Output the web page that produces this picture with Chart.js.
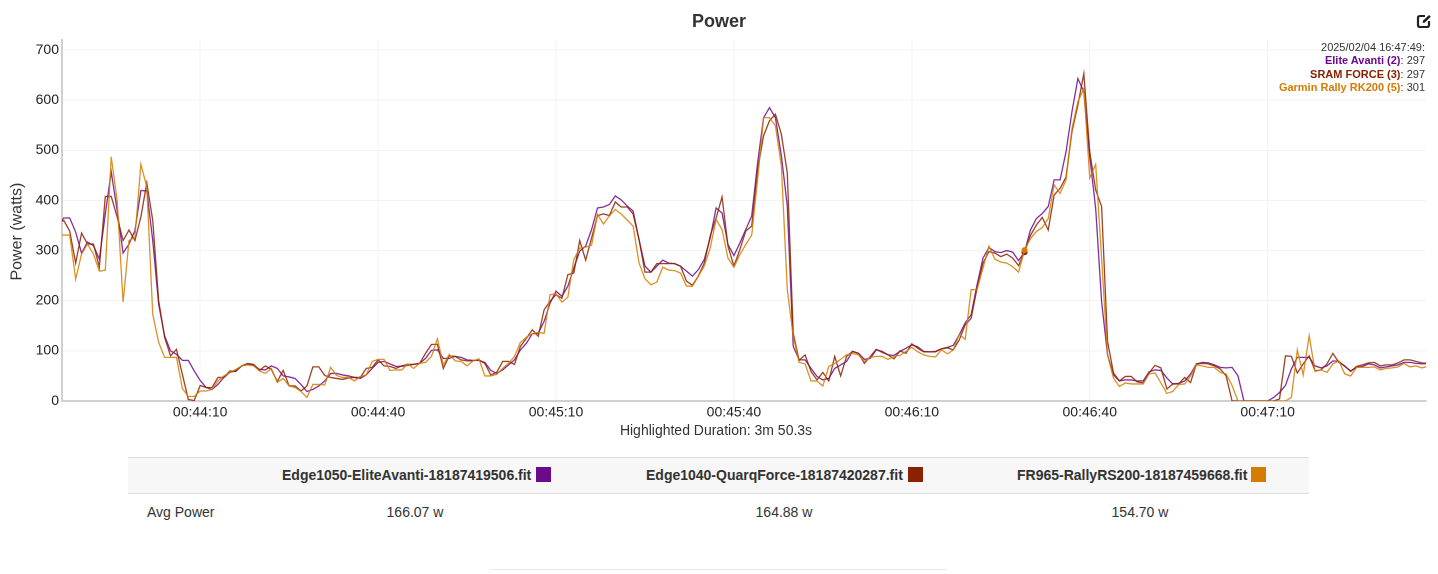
<!DOCTYPE html>
<html>
<head>
<meta charset="utf-8">
<title>Power</title>
<script src="https://cdn.jsdelivr.net/npm/chart.js@4"></script>
<style>
html,body{margin:0;padding:0;background:#fff;width:1438px;height:574px;overflow:hidden;font-family:"Liberation Sans",Arial,sans-serif;color:#333}
#wrap{position:absolute;left:0;top:0;width:1438px;height:445px}
#readout{position:absolute;right:13px;top:41px;text-align:right;font-size:11px;line-height:13.4px;color:#333}
#readout b{font-weight:bold}
#icon{position:absolute;left:1416px;top:13px;width:16px;height:16px}
#duration{position:absolute;left:516px;width:400px;top:422px;text-align:center;font-size:14px;line-height:17px;color:#333}
.band{position:absolute;left:128px;top:457px;width:1181px;height:35px;background:#f7f7f7;border-top:1px solid #ddd;border-bottom:1px solid #ddd}
.h{position:absolute;top:467px;font-size:14px;line-height:17px;font-weight:bold;color:#333;white-space:nowrap}
.sw{position:absolute;top:467px;width:15px;height:15px}
.c{position:absolute;top:504px;font-size:14px;line-height:17px;color:#333;white-space:nowrap}
.rule{position:absolute;left:490px;top:569px;width:456px;height:1px;background:#e8e8e8}
</style>
</head>
<body>
<div id="wrap"><canvas id="chart" width="1438" height="445"></canvas></div>
<div id="readout"></div>
<svg id="icon" viewBox="0 0 16 16" fill="none" stroke="#222" stroke-width="2.2">
  <path d="M9 3H4a2 2 0 0 0-2 2v7a2 2 0 0 0 2 2h7a2 2 0 0 0 2-2V8"/>
  <path d="M6.5 10l.7-2.4L13 2l1.8 1.8-5.8 5.6z" fill="#222" stroke="none"/>
</svg>
<div id="duration"></div>
<div class="band"></div>
<div class="rule"></div>
<script>
const firstSecond = 2626;
const xTickSeconds = [2650, 2680, 2710, 2740, 2770, 2800, 2830];
const xTickLabels = ["00:44:10", "00:44:40", "00:45:10", "00:45:40", "00:46:10", "00:46:40", "00:47:10"];
const seriesNames = ["Elite Avanti (2)", "SRAM FORCE (3)", "Garmin Rally RK200 (5)"];
const seriesColors = ["#6c0a8c", "#8a2200", "#d67c00"];
const fileNames = ["Edge1050-EliteAvanti-18187419506.fit", "Edge1040-QuarqForce-18187420287.fit", "FR965-RallyRS200-18187459668.fit"];
const avgPower = ["166.07 w", "164.88 w", "154.70 w"];
const durationText = "Highlighted Duration: 3m 50.3s";
const hoverSecond = 2789;
const hoverStamp = "2025/02/04 16:47:49:";
const hoverValues = [297, 297, 301];

const eliteAvanti = [
350,365,365,337,295,317,310,283,373,457,
380,295,313,340,420,419,320,193,130,100,
93,81,81,60,41,27,23,33,47,57,
60,70,73,72,63,62,70,65,50,48,
45,33,19,23,30,40,55,55,52,50,
47,45,52,65,77,79,74,69,69,71,
73,75,85,101,102,85,85,89,87,82,
81,81,77,61,55,62,72,82,102,115,
134,135,159,195,219,209,229,265,299,309,
342,385,387,392,409,401,389,379,322,269,
257,269,281,275,274,269,259,249,262,282,
325,385,375,312,290,315,342,369,475,565,
585,565,489,389,109,82,82,65,49,42,
45,65,72,79,99,95,83,85,102,99,
92,91,99,105,112,108,
99,98,99,104,107,111,132,156,172,232,
285,306,298,296,300,297,280,297,341,364,
374,388,441,441,497,577,643,617,487,384,
198,92,52,40,42,42,40,40,58,62,61,
46,34,35,40,54,74,77,76,72,67,
66,67,50,0,0,0,0,0,7,17,
31,64,87,87,87,70,66,70,80,79,
69,60,67,69,74,72,66,68,70,72,
77,77,75,74,75];

const sramForce = [
355,360,339,275,335,313,313,267,408,408,
367,320,341,320,367,435,360,200,127,90,
103,53,3,1,31,27,27,47,47,60,
59,70,75,73,61,70,63,39,61,30,
30,20,30,68,68,51,47,45,43,46,
47,47,65,67,82,70,69,65,70,73,
73,75,95,113,113,65,90,89,82,80,
80,82,75,52,57,79,79,73,109,125,
142,129,182,199,212,205,252,255,320,281,
325,370,373,370,397,387,387,373,322,257,
257,274,274,274,274,269,239,231,249,275,
329,365,407,309,269,302,339,349,462,529,
559,572,532,455,135,81,92,59,42,57,
40,89,50,89,99,95,75,89,103,97,
92,84,100,95,114,105,
98,98,98,104,106,102,122,152,165,225,
275,298,295,288,293,285,270,297,330,351,
366,341,411,424,447,537,590,653,497,421,
388,119,56,40,49,49,38,36,56,71,66,
24,34,34,47,37,74,75,74,70,64,
50,0,0,0,0,0,0,0,0,4,
90,89,56,74,90,60,62,74,95,77,
70,59,69,72,76,77,70,72,72,76,
82,82,79,76,75];

const garminRally = [
331,331,331,243,293,313,293,259,261,487,
400,197,320,327,472,427,173,117,87,87,
87,25,9,9,20,20,23,40,50,57,
63,70,72,70,60,55,65,37,45,30,
27,19,7,33,33,32,67,51,47,47,
40,49,52,79,83,83,61,62,62,74,
65,75,77,89,124,72,93,80,79,70,
80,84,50,50,53,65,75,89,117,127,
134,137,135,212,214,197,207,282,305,307,
311,372,353,369,382,373,361,349,275,244,
232,237,267,261,260,255,229,229,249,269,
305,362,342,285,267,292,312,331,442,565,
565,549,469,222,129,77,74,40,40,30,
69,75,83,92,95,92,79,87,89,89,
83,89,91,99,107,98,
92,89,88,102,94,102,133,123,222,222,
265,309,283,277,275,268,257,301,324,338,
346,364,431,414,441,543,597,623,445,472,
285,92,46,29,36,34,34,34,54,56,36,
15,19,33,34,50,72,70,67,67,57,
54,31,0,0,0,0,0,0,0,0,
0,7,102,52,130,59,62,57,74,80,
54,50,67,67,67,68,62,65,66,68,
75,68,70,66,69];

const FONT = '"Liberation Sans", Arial, sans-serif';
const seriesValues = [eliteAvanti, sramForce, garminRally];

function makeDataset(values, k) {
  return {
    label: seriesNames[k],
    data: values.map((y, i) => ({x: firstSecond + i, y: y})),
    borderColor: seriesColors[k] + 'd9',
    backgroundColor: seriesColors[k],
    borderWidth: 1.3,
    tension: 0,
    fill: false,
    order: 3 - k,
    pointRadius: c => (c.raw && c.raw.x === hoverSecond) ? 3 : 0,
    pointHoverRadius: 0,
    pointBorderWidth: 0
  };
}

new Chart(document.getElementById('chart'), {
  type: 'line',
  data: {datasets: seriesValues.map(makeDataset)},
  options: {
    responsive: false,
    animation: false,
    devicePixelRatio: 2,
    layout: {padding: {left: 12, right: 12, top: 0, bottom: 0}},
    events: [],
    plugins: {
      legend: {display: false},
      tooltip: {enabled: false},
      title: {
        display: true, text: 'Power', color: '#333',
        font: {family: FONT, size: 18, weight: 'bold'},
        padding: {top: 11, bottom: 7.4}
      }
    },
    scales: {
      x: {
        type: 'linear', min: 2626.7, max: 2856.7,
        afterBuildTicks: a => { a.ticks = xTickSeconds.map(v => ({value: v})); },
        afterFit: s => { s.height = 44; },
        grid: {color: '#f3f3f3', lineWidth: 1, drawTicks: false},
        border: {color: '#d0d0d0', width: 2},
        ticks: {
          autoSkip: false, maxRotation: 0, padding: 3, color: '#222',
          font: {family: FONT, size: 14},
          callback: v => xTickLabels[xTickSeconds.indexOf(v)]
        }
      },
      y: {
        min: 0, max: 720,
        afterFit: s => { s.width = 50; },
        grid: {color: '#f3f3f3', lineWidth: 1, drawTicks: false},
        border: {color: '#d0d0d0', width: 2},
        ticks: {
          stepSize: 100, includeBounds: false, padding: 3, color: '#222',
          font: {family: FONT, size: 14}
        },
        title: {
          display: true, text: 'Power (watts)     ', color: '#333',
          font: {family: FONT, size: 16}, padding: {top: -4.6, bottom: 0}
        }
      }
    }
  }
});

document.getElementById('duration').textContent = durationText;
const ro = document.getElementById('readout');
ro.innerHTML = '<div>' + hoverStamp + '</div>' + seriesNames.map((n, k) =>
  '<div><b style="color:' + seriesColors[k] + '">' + n + '</b>: ' + hoverValues[k] + '</div>').join('');

const headLeft = [282, 646, 1017];
const swLeft = [536, 908, 1251];
const cellCenter = [415, 784, 1140];
fileNames.forEach((n, k) => {
  const h = document.createElement('div'); h.className = 'h'; h.style.left = headLeft[k] + 'px'; h.textContent = n; document.body.appendChild(h);
  const s = document.createElement('div'); s.className = 'sw'; s.style.left = swLeft[k] + 'px'; s.style.background = seriesColors[k]; document.body.appendChild(s);
  const c = document.createElement('div'); c.className = 'c'; c.style.left = (cellCenter[k] - 60) + 'px'; c.style.width = '120px'; c.style.textAlign = 'center'; c.textContent = avgPower[k]; document.body.appendChild(c);
});
const lab = document.createElement('div'); lab.className = 'c'; lab.style.left = '147px'; lab.textContent = 'Avg Power'; document.body.appendChild(lab);
</script>
</body>
</html>
